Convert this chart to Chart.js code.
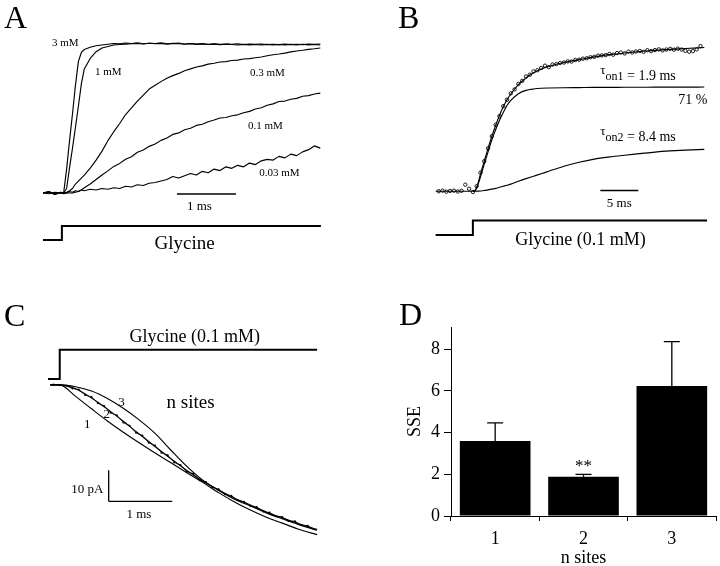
<!DOCTYPE html>
<html><head><meta charset="utf-8">
<script src="https://cdn.jsdelivr.net/npm/chart.js@4.4.1/dist/chart.umd.min.js"></script>
<style>
html,body{margin:0;padding:0;background:#fff;}
#fig{position:relative;width:720px;height:566px;background:#fff;overflow:hidden;}
canvas{position:absolute;}
</style></head><body>
<div id="fig">
<canvas id="cA" width="360" height="265" style="left:0;top:0"></canvas>
<canvas id="cB" width="360" height="265" style="left:360px;top:0"></canvas>
<canvas id="cC" width="360" height="301" style="left:0;top:265px"></canvas>
<canvas id="cD" width="360" height="301" style="left:360px;top:265px"></canvas>
</div>
<script>
// ---------- Panel A: normalized current vs time (ms) ----------
const tA = [0,0.1,0.2,0.3,0.35,0.4,0.45,0.5,0.55,0.6,0.65,0.7,0.8,0.9,
  1.0,1.1,1.2,1.3,1.4,1.5,1.6,1.7,1.8,1.9,2.0,2.1,2.2,2.3,2.4,2.5,2.6,2.7,2.8,2.9,3.0,3.1,3.2,3.3,3.4,3.5,3.6,3.7,3.8,3.9,4.0,4.1,4.2,4.3,4.4,4.5,4.6,4.7];
const gly3mM = [0,0.01,-0.01,0.005,0.0,0.16,0.35,0.53,0.72,0.88,0.94,0.96,0.975,0.985,
  0.99,0.995,1.0,0.998,1.003,1.0,1.005,0.998,1.002,1.0,1.004,0.998,1.0,1.003,0.997,1.0,0.996,0.999,0.995,0.998,0.994,0.997,0.995,0.998,0.993,0.996,0.994,0.997,0.993,0.995,0.992,0.996,0.993,0.995,0.992,0.996,0.994,0.997];
const gly1mM = [0,-0.005,0.005,0,0,0.03,0.17,0.30,0.44,0.58,0.73,0.83,0.90,0.945,
  0.97,0.98,0.99,0.993,0.996,0.998,1.0,0.997,1.002,0.999,1.0,0.996,1.001,0.998,0.995,0.999,0.994,0.997,0.993,0.996,0.992,0.995,0.993,0.99,0.994,0.991,0.993,0.99,0.994,0.99,0.993,0.99,0.994,0.991,0.995,0.99,0.993,0.99];
const gly03mM = [0,0.005,-0.005,0,0,0.005,0.015,0.03,0.06,0.08,0.10,0.12,0.167,0.22,
  0.28,0.35,0.41,0.465,0.525,0.57,0.615,0.655,0.695,0.72,0.745,0.768,0.785,0.80,0.818,0.83,0.843,0.85,0.862,0.868,0.876,0.879,0.886,0.889,0.896,0.899,0.905,0.91,0.918,0.925,0.93,0.936,0.944,0.95,0.955,0.961,0.965,0.97];
const gly01mM = [0,0.003,-0.004,0.002,0,0,0,0,0.005,0.01,0.02,0.035,0.06,0.09,
  0.12,0.148,0.178,0.198,0.226,0.243,0.272,0.288,0.312,0.328,0.352,0.368,0.392,0.402,0.423,0.433,0.452,0.46,0.477,0.488,0.502,0.505,0.517,0.523,0.537,0.546,0.562,0.57,0.587,0.596,0.612,0.615,0.627,0.633,0.647,0.651,0.662,0.668];
const gly003mM = [0,0.01,-0.01,0.005,-0.005,0.0,0.01,0.005,0.015,0.01,0.02,0.015,0.025,0.02,
  0.03,0.025,0.035,0.03,0.045,0.04,0.055,0.05,0.065,0.07,0.08,0.09,0.11,0.10,0.115,0.13,0.12,0.145,0.135,0.16,0.15,0.175,0.165,0.185,0.175,0.2,0.19,0.215,0.225,0.22,0.245,0.235,0.26,0.25,0.275,0.29,0.315,0.3];
const concLabelsA = ['3 mM','1 mM','0.3 mM','0.1 mM','0.03 mM'];
const stimTA = [0,0.32,0.32,4.71];
const stimA = [0,0,1,1];

// ---------- Panel B: 0.1 mM data, fit and two components ----------
const tBData = [-4.5,-4,-3.5,-3,-2.5,-2,-1.5,-1,-0.5,0,0.5,1,1.5,2,2.5,3,3.5,4,4.5,5,5.5,6,6.5,7,7.5,8,8.5,9,9.5,10,
  10.5,11,11.5,12,12.5,13,13.5,14,14.5,15,15.5,16,16.5,17,17.5,18,18.5,19,19.5,20,20.5,21,21.5,22,22.5,23,23.5,24,24.5,25,
  25.5,26,26.5,27,27.5,28,28.5,29,29.5,30];
const dataB = [0.0,0.004,-0.003,0.002,0.004,-0.002,0.003,0.046,0.017,-0.005,0.035,0.13,0.21,0.30,0.385,0.465,0.525,0.595,0.64,0.685,
  0.712,0.75,0.772,0.802,0.815,0.838,0.846,0.862,0.878,0.868,0.886,0.889,0.897,0.9,0.908,0.907,0.918,0.92,0.927,0.93,
  0.937,0.94,0.948,0.95,0.952,0.96,0.955,0.966,0.97,0.964,0.976,0.97,0.977,0.981,0.975,0.986,0.98,0.987,0.992,0.985,
  0.991,0.996,0.99,0.997,0.991,0.982,0.976,0.98,0.992,1.015];
const tBFit = [-4.9,0,0.3,0.7,1,1.5,2,2.5,3,3.5,4,4.5,5,6,7,8,9,10,12,14,16,18,20,22,24,26,28,30.5];
const fitB = [0,0,0.005,0.06,0.12,0.21,0.30,0.385,0.46,0.53,0.59,0.64,0.68,0.745,0.792,0.828,0.854,0.873,0.9,0.92,0.94,0.955,0.967,0.977,0.985,0.992,0.998,1.005];
const tau1B = [0,0,0.005,0.05,0.1,0.19,0.275,0.36,0.43,0.495,0.55,0.6,0.635,0.682,0.705,0.715,0.72,0.722,0.724,0.725,0.726,0.726,0.727,0.727,0.728,0.728,0.728,0.729];
const tau2B = [0,0,0,0.001,0.002,0.005,0.01,0.015,0.02,0.028,0.035,0.042,0.05,0.07,0.088,0.105,0.122,0.14,0.175,0.203,0.225,0.24,0.252,0.263,0.274,0.282,0.288,0.293];
const stimTB = [-4.91,0,0,30.86];
const stimB = [0,0,1,1];

// ---------- Panel C: current (pA) vs time (ms), n-site fits ----------
const tCFit = [-0.15,0,0.25,0.5,0.75,1.0,1.25,1.5,1.75,2.0,2.25,2.5,2.75,3.0,3.25,3.5,3.75,4.05];
const nSite1 = [0,0,-3.7,-7.7,-11.6,-15.2,-18.6,-21.9,-25.0,-28.2,-31.3,-34.6,-37.6,-40.2,-42.5,-44.4,-46.3,-48.1];
const nSite2 = [0,0,-1.25,-4.2,-7.8,-11.7,-15.8,-19.8,-23.75,-27.5,-30.9,-33.75,-36.4,-38.6,-40.8,-42.7,-44.5,-46.4];
const nSite3 = [0,0,-0.6,-2.0,-4.4,-7.5,-11.25,-15.6,-21.0,-26.2,-30.6,-33.9,-36.7,-38.9,-41.1,-43.0,-44.8,-46.7];
const tCData = [-0.1,0,0.1,0.2,0.3,0.4,0.5,0.6,0.7,0.8,0.9,1.0,1.1,1.2,1.3,1.4,1.5,1.6,1.7,1.8,1.9,2.0,2.1,2.2,2.3,2.4,2.5,2.6,2.7,2.8,2.9,3.0,3.1,3.2,3.3,3.4,3.5,3.6,3.7,3.8,3.9,4.0];
const dataC = [0.1,-0.1,-0.2,-1.2,-1.5,-3.3,-3.9,-5.9,-6.8,-9.0,-9.8,-12.1,-13.1,-15.4,-16.3,-18.6,-19.5,-21.8,-22.6,-24.9,-25.7,-27.9,-28.5,-30.6,-31.2,-32.9,-33.5,-35.1,-35.6,-37.0,-37.5,-38.9,-39.2,-40.7,-41.0,-42.2,-42.4,-43.7,-43.8,-45.0,-45.2,-46.3];
const stimTC = [-0.185,0,0,4.05];
const stimC = [0,0,1,1];

// ---------- Panel D: SSE vs number of sites ----------
const sitesLabels = ['1','2','3'];
const sseMean = [3.6,1.88,6.24];
const sseErr = [0.87,0.12,2.13];

// ================= drawing =================
const FONT = "'Liberation Serif','Times New Roman',serif";
Chart.defaults.font.family = FONT;
Chart.defaults.color = '#000';

const pts = (xs, ys) => xs.map((x, i) => ({x: x, y: ys[i]}));
function spanX(v0, p0, v1, p1, size){ const k=(p1-p0)/(v1-v0); const min=v0-p0/k; return {min:min, max:min+size/k}; }
function spanY(v0, p0, v1, p1, size){ const k=(p0-p1)/(v1-v0); const max=v0+p0/k; return {min:max-size/k, max:max}; }
function lineDs(xs, ys, o){ return Object.assign({data:pts(xs,ys), showLine:true, borderColor:'#000', borderWidth:1.15, pointRadius:0, fill:false, tension:0, yAxisID:'y', borderJoinStyle:'round'}, o||{}); }
function hiddenScales(sx, sy, ss){
  return {
    x:{type:'linear', display:false, min:sx.min, max:sx.max},
    y:{type:'linear', axis:'y', display:false, min:sy.min, max:sy.max},
    yS:{type:'linear', axis:'y', display:false, min:ss.min, max:ss.max}
  };
}
function baseOpts(scales){
  return {responsive:false, animation:false, devicePixelRatio:1, events:[], layout:{padding:0},
    plugins:{legend:{display:false}, tooltip:{enabled:false}}, scales:scales};
}
function P(chart, axis, v){ return chart.scales[axis].getPixelForValue(v); }
function textPlugin(id, items, extra){
  return {id:id, afterDraw(chart){
    const ctx = chart.ctx; ctx.save(); ctx.fillStyle='#000';
    for (const it of items){
      ctx.font = it.font; ctx.textAlign = it.align || 'center'; ctx.textBaseline = it.base || 'middle';
      const px = it.canvas ? it.x : P(chart, 'x', it.x);
      const py = it.canvas ? it.y : P(chart, it.axis || 'y', it.y);
      ctx.fillText(it.text, px, py);
    }
    if (extra) extra(chart, ctx);
    ctx.restore();
  }};
}
function seg(chart, ctx, x0, y0, x1, y1, axis, lw){
  ctx.beginPath(); ctx.lineWidth = lw; ctx.strokeStyle = '#000';
  ctx.moveTo(P(chart,'x',x0), P(chart,axis,y0)); ctx.lineTo(P(chart,'x',x1), P(chart,axis,y1)); ctx.stroke();
}
function tauLabel(chart, ctx, x, y, sub, rest){
  let px = P(chart,'x',x); const base = P(chart,'y',y) + 4.5;
  ctx.textAlign='left'; ctx.textBaseline='alphabetic';
  ctx.font = '13px ' + FONT; ctx.fillText('\u03C4', px, base - 6); px += ctx.measureText('\u03C4').width;
  ctx.font = '12px ' + FONT; ctx.fillText(sub, px, base); px += ctx.measureText(sub).width;
  ctx.font = '14px ' + FONT; ctx.fillText(rest, px, base);
}

// ---- Chart A ----
const scA = hiddenScales(spanX(0,43,1,102,360), spanY(0,193,1,43.5,265), spanY(0,240,1,226,265));
new Chart(document.getElementById('cA'), {
  type:'scatter',
  data:{datasets:[
    lineDs(tA, gly003mM), lineDs(tA, gly01mM), lineDs(tA, gly03mM), lineDs(tA, gly1mM), lineDs(tA, gly3mM),
    lineDs(stimTA, stimA, {yAxisID:'yS', borderWidth:2, borderJoinStyle:'miter'})
  ]},
  options: baseOpts(scA),
  plugins:[textPlugin('tA', [
    {text:'A', x:4, y:28, canvas:true, align:'left', base:'alphabetic', font:'32px '+FONT},
    {text:concLabelsA[0], x:0.153, y:1.0, align:'left', font:'11px '+FONT},
    {text:concLabelsA[1], x:0.881, y:0.806, align:'left', font:'11px '+FONT},
    {text:concLabelsA[2], x:3.508, y:0.803, align:'left', font:'11px '+FONT},
    {text:concLabelsA[3], x:3.475, y:0.446, align:'left', font:'11px '+FONT},
    {text:concLabelsA[4], x:3.666, y:0.134, align:'left', font:'11px '+FONT},
    {text:'1 ms', x:2.65, y:-0.09, font:'13px '+FONT},
    {text:'Glycine', x:2.40, y:-0.3, axis:'yS', font:'19px '+FONT}
  ], (chart, ctx) => { seg(chart, ctx, 2.27, -0.007, 3.27, -0.007, 'y', 1.5); })]
});

// ---- Chart B ----
const scB = hiddenScales(spanX(0,111,5,150,360), spanY(0,193.5,1,45,265), spanY(0,239,1,224,265));
new Chart(document.getElementById('cB'), {
  type:'scatter',
  data:{datasets:[
    lineDs(tBFit, fitB, {cubicInterpolationMode:'monotone'}),
    lineDs(tBFit.slice(1), tau1B.slice(1), {cubicInterpolationMode:'monotone'}),
    lineDs(tBFit.slice(1), tau2B.slice(1), {cubicInterpolationMode:'monotone'}),
    {data:pts(tBData, dataB), showLine:false, pointRadius:1.7, pointBorderWidth:0.9, pointBorderColor:'#000', pointBackgroundColor:'rgba(255,255,255,0)', yAxisID:'y'},
    lineDs(stimTB, stimB, {yAxisID:'yS', borderWidth:2, borderJoinStyle:'miter'})
  ]},
  options: baseOpts(scB),
  plugins:[textPlugin('tB', [
    {text:'B', x:38, y:28, canvas:true, align:'left', base:'alphabetic', font:'32px '+FONT},
    {text:'71 %', x:30.9, y:0.636, align:'right', font:'14px '+FONT},
    {text:'5 ms', x:19.3, y:-0.085, font:'13px '+FONT},
    {text:'Glycine (0.1 mM)', x:14.19, y:-0.36, axis:'yS', font:'18px '+FONT}
  ], (chart, ctx) => {
    seg(chart, ctx, 16.8, 0.005, 21.8, 0.005, 'y', 1.5);
    tauLabel(chart, ctx, 16.8, 0.811, 'on1', ' = 1.9 ms');
    tauLabel(chart, ctx, 16.8, 0.380, 'on2', ' = 8.4 ms');
  })]
});

// ---- Chart C ----
const scC = hiddenScales(spanX(0,57,1,122,360), spanY(0,119,-10,151,301), spanY(0,113,1,83,301));
new Chart(document.getElementById('cC'), {
  type:'scatter',
  data:{datasets:[
    lineDs(tCFit, nSite1, {cubicInterpolationMode:'monotone'}),
    lineDs(tCFit, nSite3, {cubicInterpolationMode:'monotone'}),
    lineDs(tCFit, nSite2, {cubicInterpolationMode:'monotone'}),
    lineDs(tCData, dataC, {pointRadius:1.0, pointBackgroundColor:'#000', pointBorderWidth:0, borderWidth:0.8}),
    lineDs(stimTC, stimC, {yAxisID:'yS', borderWidth:2, borderJoinStyle:'miter'})
  ]},
  options: baseOpts(scC),
  plugins:[textPlugin('tC', [
    {text:'C', x:4, y:61, canvas:true, align:'left', base:'alphabetic', font:'32px '+FONT},
    {text:'Glycine (0.1 mM)', x:2.123, y:1.42, axis:'yS', font:'18px '+FONT},
    {text:'n sites', x:1.68, y:-5.8, align:'left', font:'19px '+FONT},
    {text:'3', x:0.97, y:-5.8, font:'13px '+FONT},
    {text:'2', x:0.738, y:-9.4, font:'13px '+FONT},
    {text:'1', x:0.431, y:-12.6, font:'13px '+FONT},
    {text:'10 pA', x:0.688, y:-33.5, align:'right', font:'13px '+FONT},
    {text:'1 ms', x:1.246, y:-41.8, font:'13px '+FONT}
  ], (chart, ctx) => {
    seg(chart, ctx, 0.77, -27.4, 0.77, -37.4, 'y', 1.3);
    seg(chart, ctx, 0.77, -37.4, 1.77, -37.4, 'y', 1.3);
  })]
});

// ---- Chart D ----
const errPlugin = {id:'err', afterDatasetsDraw(chart){
  const ctx = chart.ctx; const meta = chart.getDatasetMeta(0); ctx.save();
  ctx.strokeStyle = '#000'; ctx.lineWidth = 1.3;
  meta.data.forEach((bar, i) => {
    const x = bar.x; const y0 = P(chart,'y',sseMean[i]); const y1 = P(chart,'y',sseMean[i]+sseErr[i]);
    ctx.beginPath(); ctx.moveTo(x, y0); ctx.lineTo(x, y1); ctx.moveTo(x-8, y1); ctx.lineTo(x+8, y1); ctx.stroke();
  });
  ctx.restore();
}};
new Chart(document.getElementById('cD'), {
  type:'bar',
  data:{labels:sitesLabels, datasets:[{data:sseMean, backgroundColor:'#000', borderWidth:0, barPercentage:0.8, categoryPercentage:1.0}]},
  options:{responsive:false, animation:false, devicePixelRatio:1, events:[],
    layout:{padding:{left:41, right:4, top:62, bottom:0}},
    plugins:{legend:{display:false}, tooltip:{enabled:false}},
    scales:{
      x:{grid:{display:true, drawOnChartArea:false, drawTicks:true, tickLength:5, color:'#000', lineWidth:1, offset:true},
         border:{display:true, color:'#000', width:1},
         ticks:{font:{family:FONT, size:18}, color:'#000', padding:7},
         title:{display:true, text:'n sites', font:{family:FONT, size:18}, color:'#000', padding:{top:0, bottom:-3}},
         afterFit(s){ s.height = 50; }},
      y:{min:0, max:9.07,
         grid:{drawOnChartArea:false, drawTicks:true, tickLength:7, color:'#000', lineWidth:1},
         border:{display:true, color:'#000', width:1},
         ticks:{stepSize:2, includeBounds:false, font:{family:FONT, size:18}, color:'#000', padding:4},
         title:{display:true, text:'SSE', font:{family:FONT, size:18}, color:'#000', padding:{top:3, bottom:0}},
         afterFit(s){ s.width = 50; }}
    }},
  plugins:[errPlugin, textPlugin('tD', [
    {text:'D', x:39, y:60, canvas:true, align:'left', base:'alphabetic', font:'32px '+FONT},
    {text:'**', x:1, y:2.36, font:'17px '+FONT}
  ])]
});
</script>
</body></html>
